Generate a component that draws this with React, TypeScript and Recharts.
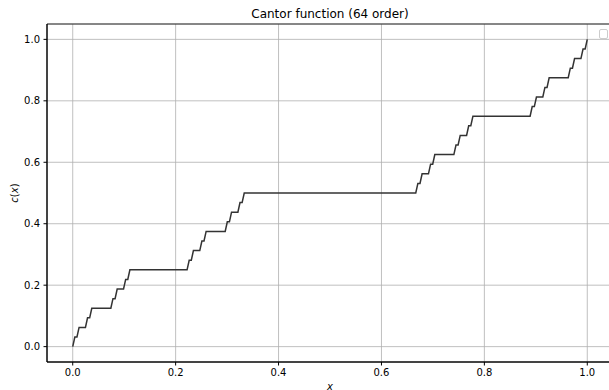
import React from 'react'
import { LineChart, Line, XAxis, YAxis, CartesianGrid, ReferenceArea } from 'recharts'

// corner points of the staircase
const xs = [
  0, 0.004115, 0.00823, 0.012346, 0.024691, 0.028807, 0.032922, 0.037037,
  0.074074, 0.078189, 0.082305, 0.08642, 0.098765, 0.102881, 0.106996, 0.111111,
  0.222222, 0.226337, 0.230453, 0.234568, 0.246914, 0.251029, 0.255144, 0.259259,
  0.296296, 0.300412, 0.304527, 0.308642, 0.320988, 0.325103, 0.329218, 0.333333,
  0.666667, 0.670782, 0.674897, 0.679012, 0.691358, 0.695473, 0.699588, 0.703704,
  0.740741, 0.744856, 0.748971, 0.753086, 0.765432, 0.769547, 0.773663, 0.777778,
  0.888889, 0.893004, 0.897119, 0.901235, 0.91358, 0.917695, 0.921811, 0.925926,
  0.962963, 0.967078, 0.971193, 0.975309, 0.987654, 0.99177, 0.995885, 1,
]
const ys = [
  0, 0.03125, 0.03125, 0.0625, 0.0625, 0.09375, 0.09375, 0.125,
  0.125, 0.15625, 0.15625, 0.1875, 0.1875, 0.21875, 0.21875, 0.25,
  0.25, 0.28125, 0.28125, 0.3125, 0.3125, 0.34375, 0.34375, 0.375,
  0.375, 0.40625, 0.40625, 0.4375, 0.4375, 0.46875, 0.46875, 0.5,
  0.5, 0.53125, 0.53125, 0.5625, 0.5625, 0.59375, 0.59375, 0.625,
  0.625, 0.65625, 0.65625, 0.6875, 0.6875, 0.71875, 0.71875, 0.75,
  0.75, 0.78125, 0.78125, 0.8125, 0.8125, 0.84375, 0.84375, 0.875,
  0.875, 0.90625, 0.90625, 0.9375, 0.9375, 0.96875, 0.96875, 1,
]
const xTicks = [0, 0.2, 0.4, 0.6, 0.8, 1.0]
const yTicks = [0, 0.2, 0.4, 0.6, 0.8, 1.0]

const data = xs.map((x, i) => ({ x, c: ys[i] }))

const font = 'DejaVu Sans, sans-serif'

const App: React.FC = () => {
  return (
    <div style={{ position: 'absolute', left: 0, top: 0, width: 609, height: 390, overflow: 'hidden', background: '#fff', fontFamily: font }}>
      <LineChart
        width={620}
        height={390}
        data={data}
        margin={{ top: 24, right: 7, bottom: 0, left: 7 }}
      >
        <text x={330} y={14} textAnchor="middle" dominantBaseline="central" fontSize={12} fill="#000" fontFamily={font}>
          Cantor function (64 order)
        </text>
        <CartesianGrid stroke="#b0b0b0" strokeWidth={0.8} />
        <XAxis
          dataKey="x"
          type="number"
          domain={[-0.05, 1.05]}
          ticks={xTicks}
          allowDataOverflow
          height={28}
          tickSize={3.5}
          tickMargin={3}
          tickFormatter={(v: number) => v.toFixed(1)}
          tick={{ fontSize: 10, fill: '#000', fontFamily: font }}
          stroke="#000"
          label={{
            content: (props: any) => (
              <text x={330} y={386} textAnchor="middle" dominantBaseline="central" fontSize={10} fontStyle="italic" fill="#000" fontFamily={font}>
                x
              </text>
            ),
          }}
        />
        <YAxis
          type="number"
          domain={[-0.05, 1.05]}
          ticks={yTicks}
          allowDataOverflow
          width={40}
          tickSize={3.5}
          tickMargin={3.5}
          tickFormatter={(v: number) => v.toFixed(1)}
          tick={{ fontSize: 10, fill: '#000', fontFamily: font }}
          stroke="#000"
          label={{
            content: () => (
              <text x={14} y={193} textAnchor="middle" dominantBaseline="central" fontSize={10} fill="#000" fontFamily={font} transform="rotate(-90 14 193)">
                <tspan fontStyle="italic">c</tspan>(<tspan fontStyle="italic">x</tspan>)
              </text>
            ),
          }}
        />
        <ReferenceArea x1={-0.05} x2={1.05} y1={-0.05} y2={1.05} fill="none" stroke="#000" strokeWidth={0.8} ifOverflow="visible" />
        <Line
          type="linear"
          dataKey="c"
          stroke="#333333"
          strokeWidth={1.5}
          dot={false}
          isAnimationActive={false}
        />
      </LineChart>
      <div style={{ position: 'absolute', left: 599, top: 29, width: 7, height: 8, border: '1px solid #cccccc', borderRadius: 2, background: '#fff' }} />
    </div>
  )
}

export default App
